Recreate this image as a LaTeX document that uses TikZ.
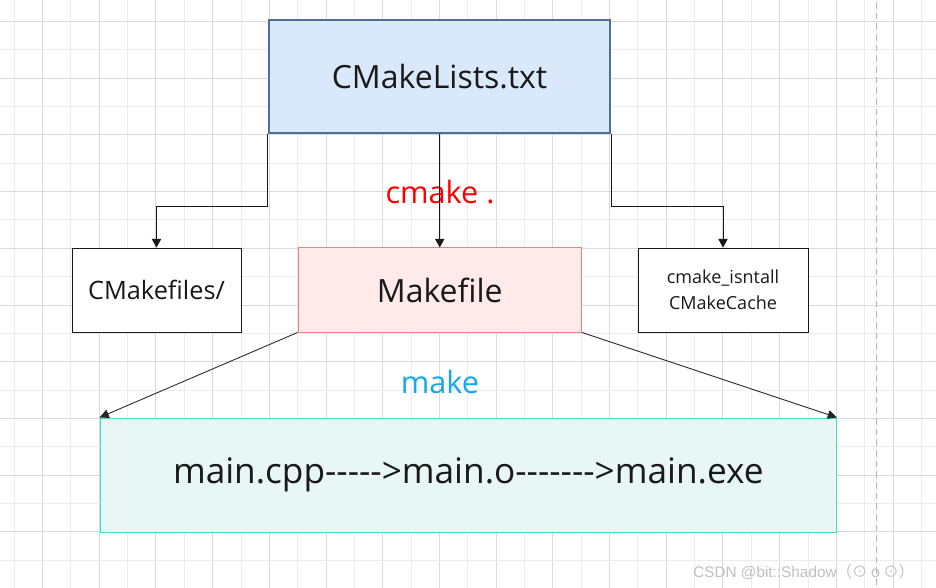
\documentclass[tikz,border=0pt]{standalone}
\usepackage{fontspec}
\setmainfont{Open Sans}[Ligatures=TeXOff]
\newfontfamily\wmfont{Liberation Sans}
\newfontfamily\cjkfont{Noto Sans CJK SC}
\usetikzlibrary{arrows.meta}
\definecolor{gridD}{RGB}{218,218,218}
\definecolor{gridL}{RGB}{236,236,236}
\definecolor{dashC}{RGB}{180,180,180}
\definecolor{cmlFill}{RGB}{218,232,252}
\definecolor{cmlDraw}{RGB}{79,111,150}
\definecolor{mkFill}{RGB}{255,234,234}
\definecolor{mkDraw}{RGB}{240,128,128}
\definecolor{btFill}{RGB}{232,247,243}
\definecolor{btDraw}{RGB}{72,218,200}
\definecolor{makeBlue}{RGB}{20,168,236}
\definecolor{wmC}{RGB}{192,192,192}
\tikzset{
  boxbase/.style={rectangle, inner sep=0pt, align=center, text=black!90},
  plainbox/.style={boxbase, draw=black!90, line width=0.7pt, fill=white},
  conn/.style={draw=black!90, line width=0.75pt, -{Triangle[length=6.5pt,width=7pt]}},
  diag/.style={draw=black!85, line width=0.65pt, -{Triangle[length=7pt,width=6.5pt]}},
  lbl/.style={inner sep=0pt, font=\fontsize{23pt}{28pt}\selectfont}
}
\begin{document}
\begin{tikzpicture}[x=0.75pt,y=-0.75pt]
\useasboundingbox (0,0) rectangle (936,588);
\fill[white] (0,0) rectangle (936,588);
% grid
\foreach \i in {0,...,32} {
  \pgfmathsetmacro\xx{14.2+28.35*\i}
  \ifodd\i\relax
    \draw[gridD, line width=0.75pt] (\xx,0) -- (\xx,588);
  \else
    \draw[gridL, line width=0.75pt] (\xx,0) -- (\xx,588);
  \fi
}
\foreach \j in {0,...,20} {
  \pgfmathsetmacro\yy{21.5+28.35*\j}
  \ifodd\j\relax
    \draw[gridL, line width=0.75pt] (0,\yy) -- (936,\yy);
  \else
    \draw[gridD, line width=0.75pt] (0,\yy) -- (936,\yy);
  \fi
}
\draw[dashC, line width=0.9pt, dash pattern=on 5pt off 3pt] (876.7,2) -- (876.7,588);

% nodes
\node[boxbase, draw=cmlDraw, line width=1.6pt, fill=cmlFill,
      minimum width=341*0.75pt, minimum height=113*0.75pt,
      font=\fontsize{24pt}{29pt}\selectfont] (cml) at (439.5,76.5) {CMakeLists.txt};
\node[plainbox, minimum width=169*0.75pt, minimum height=84*0.75pt,
      font=\fontsize{19pt}{23pt}\selectfont] (cmf) at (156.5,290) {CMakefiles/};
\node[boxbase, draw=mkDraw, line width=0.75pt, fill=mkFill,
      minimum width=283.5*0.75pt, minimum height=84*0.75pt,
      font=\fontsize{24pt}{29pt}\selectfont] (mk) at (439.75,290) {Makefile};
\node[plainbox, minimum width=170*0.75pt, minimum height=84*0.75pt,
      font=\fontsize{13.5pt}{19.5pt}\selectfont] (rb) at (723,290) {cmake\_isntall\\CMakeCache};
\node[boxbase, draw=btDraw, line width=0.75pt, fill=btFill,
      minimum width=736.5*0.75pt, minimum height=114*0.75pt,
      font=\fontsize{26.4pt}{31pt}\selectfont] (bt) at (468.25,475) {main.cpp----->main.o------->main.exe};

% labels
\node[lbl, text=red] (cmk) at (440,192) {cmake .};
\node[lbl, text=makeBlue] (mke) at (440,382) {make};

% connectors
\draw[conn] (cml.south west) -- ++(0,72) -| (cmf.north);
\draw[conn] (cml.south) -- (mk.north);
\draw[conn] (cml.south east) -- ++(0,72) -| (rb.north);
\draw[diag] (mk.south west) -- (bt.north west);
\draw[diag] (mk.south east) -- (bt.north east);

% watermark
\node[anchor=base west, inner sep=0pt, text=wmC, font=\fontsize{11.5pt}{14pt}\selectfont] (wm) at (693,577)
  {\wmfont CSDN @bit::Shadow\cjkfont（⊙ o ⊙）};
\end{tikzpicture}
\end{document}
